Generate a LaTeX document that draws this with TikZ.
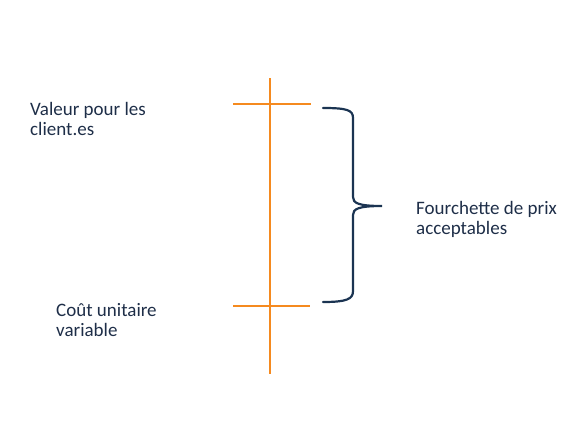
\documentclass[tikz,border=0pt]{standalone}
\usepackage{fontspec}
\setmainfont{Carlito}
\definecolor{axisorange}{HTML}{F58A1F}
\definecolor{navy}{HTML}{1B3452}
\definecolor{txt}{HTML}{1E2E48}
\begin{document}
\begin{tikzpicture}[x=1pt,y=-1pt,
  lbl/.style={anchor=base west,align=left,inner sep=0pt,text=txt,font=\fontsize{19}{20}\selectfont},
  axis/.style={draw=axisorange,line width=1.8pt},
  brace/.style={draw=navy,line width=2.2pt,line cap=round}]
\useasboundingbox (0,0) rectangle (575,431);
\coordinate (vtop) at (270,78);
\coordinate (vbot) at (270,374);
\coordinate (h1l) at (233,104);
\coordinate (h1r) at (311,104);
\coordinate (h2l) at (233,306);
\coordinate (h2r) at (310,306);
\draw[axis] (vtop) -- (vbot);
\draw[axis] (h1l) -- (h1r);
\draw[axis] (h2l) -- (h2r);
\coordinate (btop) at (323,108);
\coordinate (btip) at (382,206);
\coordinate (bbot) at (323,302);
\draw[brace] (btop) .. controls (347,108) and (353,110) .. (353,118) -- (353,197)
  .. controls (353,203) and (358,206) .. (btip)
  .. controls (358,206) and (353,209) .. (353,215) -- (353,291)
  .. controls (353,299) and (347,302) .. (bbot);
\node[lbl] (valeur) at (30,135) {Valeur pour les\\client.es};
\node[lbl] (cout) at (56,336) {Coût unitaire\\variable};
\node[lbl] (fourch) at (416,234) {Fourchette de prix\\acceptables};
\end{tikzpicture}
\end{document}
